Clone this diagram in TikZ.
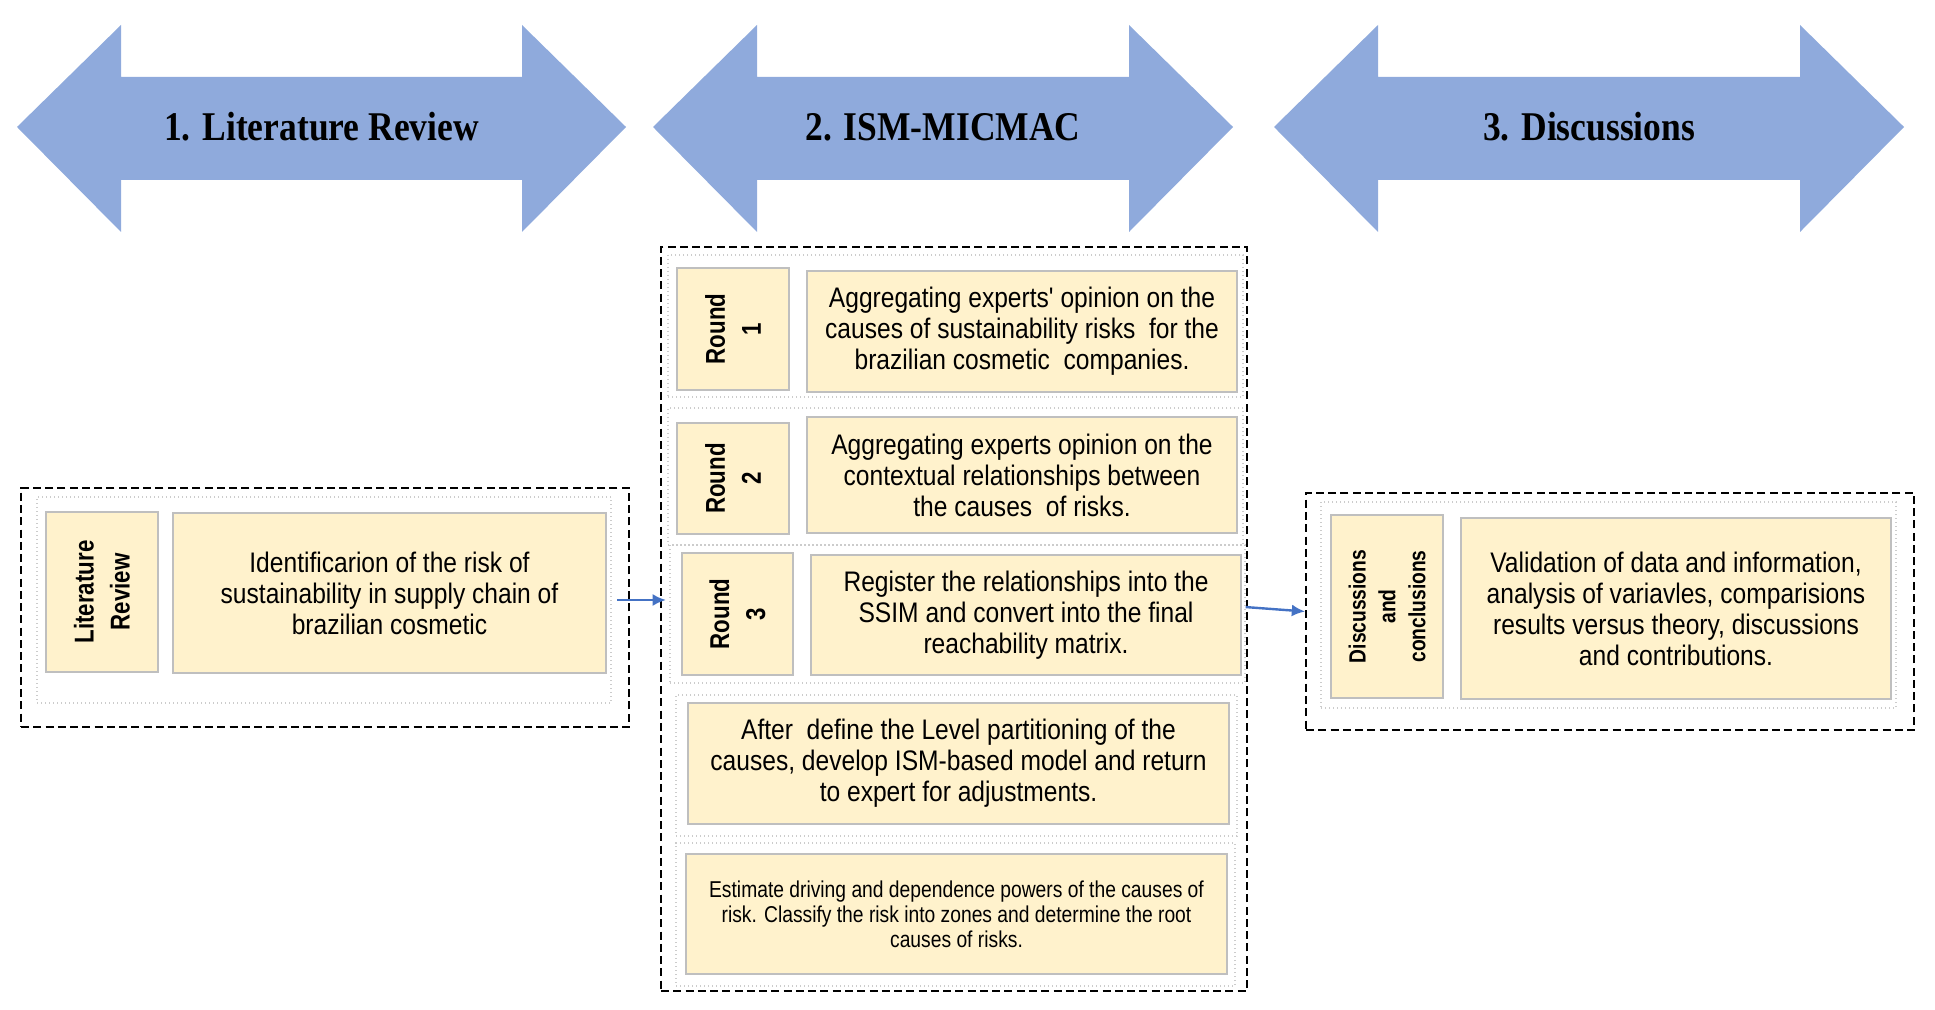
\documentclass[tikz,border=0pt]{standalone}
\usepackage{fontspec}
\setmainfont{Liberation Serif}
\newfontfamily\headfont[FakeStretch=0.87]{Liberation Serif}
\newfontfamily\bodyfont[FakeStretch=0.87]{Liberation Sans}
\newfontfamily\smallbodyfont[FakeStretch=0.84]{Liberation Sans}
\newfontfamily\labelfont[FakeStretch=0.82]{Liberation Sans}
\usetikzlibrary{positioning,arrows.meta}

\definecolor{arrowblue}{HTML}{8FAADC}
\definecolor{boxfill}{HTML}{FFF2CC}
\definecolor{boxline}{HTML}{BFBFBF}
\definecolor{linkblue}{HTML}{4472C4}

\begin{document}
\begin{tikzpicture}[x=0.375pt, y=-0.375pt,
    dashpanel/.style={draw=black, line width=0.65pt, dash pattern=on 3pt off 1.6pt},
    dotgroup/.style={draw=gray!40, line width=0.5pt, densely dotted},
    textbox/.style={draw=boxline, fill=boxfill, line width=0.7pt, align=center, inner sep=2pt,
        font=\bodyfont\fontsize{10.6}{11.6}\selectfont},
    labelbox/.style={textbox, rotate=90, font=\labelfont\bfseries\fontsize{10.2}{13.5}\selectfont},
    headtext/.style={font=\headfont\bfseries\fontsize{15.3}{18}\selectfont},
    boxsize/.style 2 args={minimum width=#1*0.375pt, minimum height=#2*0.375pt},
    link/.style={draw=linkblue, line width=0.9pt, -{Latex[length=5pt,width=4.5pt]}}
    ]
    \useasboundingbox (0,0) rectangle (1935,1010);

    % phase arrows
    \foreach \l/\r/\n/\t in {17/626/litarrow/{1. Literature Review},
                             653/1233/ismarrow/{2. ISM-MICMAC},
                             1274/1904/disarrow/{3. Discussions}} {
        \fill[arrowblue] (\l,127) -- (\l+104,25) -- (\l+104,77) -- (\r-104,77) -- (\r-104,25)
            -- (\r,127) -- (\r-104,232) -- (\r-104,180) -- (\l+104,180) -- (\l+104,232) -- cycle;
        \node[headtext] (\n) at ({(\l+\r)/2},127) {\t};
    }

    % literature review
    \node[dashpanel, boxsize={608}{239}] (litpanel) at (325,607.5) {};
    \node[dotgroup, boxsize={574}{206}] (litgroup) at (324,600) {};
    \node[labelbox, boxsize={160}{112}] (litlabel) at (102,592) {Literature\\Review};
    \node[textbox, boxsize={433}{160}] (littext) at (389.5,593)
        {Identificarion of the risk of\\sustainability in supply chain of\\brazilian cosmetic};

    % ISM-MICMAC
    \node[dashpanel, boxsize={586}{744}] (ismpanel) at (954,619) {};
    \node[dotgroup, boxsize={575}{142}] (round1group) at (955.5,326) {};
    \node[dotgroup, boxsize={575}{137}] (round2group) at (955.5,476.5) {};
    \node[dotgroup, boxsize={575}{138}] (round3group) at (957.5,614) {};
    \node[dotgroup, boxsize={561}{141}] (levelgroup) at (956.5,765.5) {};
    \node[dotgroup, boxsize={559}{143}] (micmacgroup) at (955.5,914.5) {};

    \node[labelbox, boxsize={122}{112}] (round1label) at (733,329) {Round\\1};
    \node[textbox, boxsize={430}{121}] (round1text) at (1022,331.5)
        {Aggregating experts' opinion on the\\causes of sustainability risks\ \ for the\\brazilian cosmetic\ \ companies.};
    \node[labelbox, boxsize={111}{112}] (round2label) at (733,478.5) {Round\\2};
    \node[textbox, boxsize={430}{116}] (round2text) at (1022,475)
        {Aggregating experts opinion on the\\contextual relationships between\\the causes\ \ of risks.};
    \node[labelbox, boxsize={122}{111}] (round3label) at (737.5,614) {Round\\3};
    \node[textbox, boxsize={430}{120}] (round3text) at (1026,615)
        {Register the relationships into the\\SSIM and convert into the final\\reachability matrix.};
    \node[textbox, boxsize={541}{121}] (leveltext) at (958.5,763.5)
        {After\ \ define the Level partitioning of the\\causes, develop ISM-based model and return\\to expert for adjustments.};
    \node[textbox, boxsize={541}{120}, font=\smallbodyfont\fontsize{8.6}{9.4}\selectfont] (micmactext) at (956.5,914)
        {Estimate driving and dependence powers of the causes of\\risk. Classify the risk into zones and determine the root\\causes of risks.};

    % discussions
    \node[dashpanel, boxsize={608}{237}] (dispanel) at (1610,611.5) {};
    \node[dotgroup, boxsize={575}{206}] (disgroup) at (1608.5,605) {};
    \node[labelbox, boxsize={183}{112}, font=\labelfont\bfseries\fontsize{8.8}{11.2}\selectfont] (dislabel) at (1387,606.5)
        {Discussions\\and\\conclusions};
    \node[textbox, boxsize={430}{181}] (distext) at (1676,608.5)
        {Validation of data and information,\\analysis of variavles, comparisions\\results versus theory, discussions\\and contributions.};

    % links
    \draw[link, shorten <=2pt, shorten >=-2.2pt] (litgroup.east) -- (litgroup.east -| ismpanel.west);
    \draw[link] ([yshift=2.6pt]round3group.east) -- (dispanel.west);
\end{tikzpicture}
\end{document}
